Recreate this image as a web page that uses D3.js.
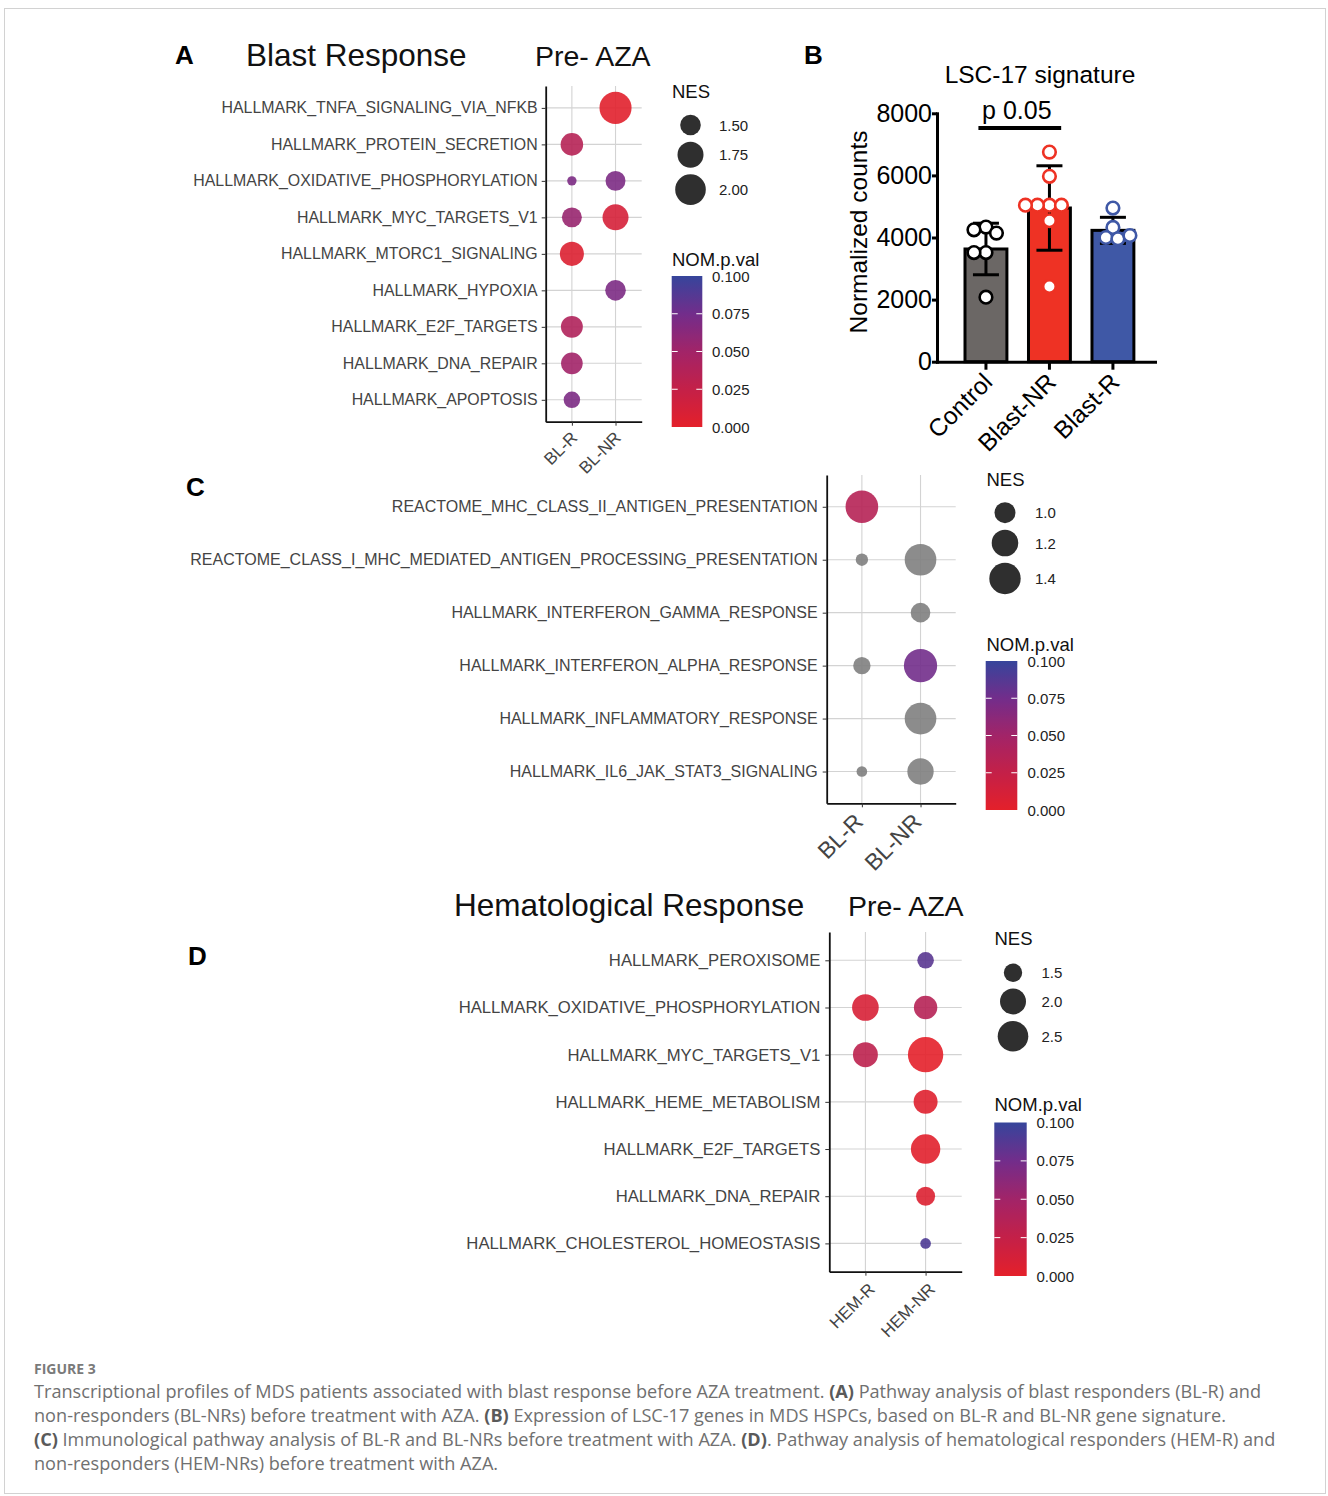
<!DOCTYPE html>
<html><head><meta charset="utf-8">
<script src="https://cdn.jsdelivr.net/npm/d3@7"></script>
<style>
body{margin:0;background:#fff}
svg{display:block}
text{font-family:"Liberation Sans",Arial,Helvetica,sans-serif}
.cap{font-family:"Open Sans","Lato",sans-serif}
</style>
</head><body>
<svg id="c" width="1328" height="1496"></svg>
<script>
// ================= DATA =================
// Panel A – Blast response, pre-AZA
const aPathways = ["HALLMARK_TNFA_SIGNALING_VIA_NFKB","HALLMARK_PROTEIN_SECRETION","HALLMARK_OXIDATIVE_PHOSPHORYLATION","HALLMARK_MYC_TARGETS_V1","HALLMARK_MTORC1_SIGNALING","HALLMARK_HYPOXIA","HALLMARK_E2F_TARGETS","HALLMARK_DNA_REPAIR","HALLMARK_APOPTOSIS"];
const aGroups = ["BL-R","BL-NR"];
const aNES_BLR  = [null,1.59,0.98,1.47,1.66,null,1.56,1.55,1.31];
const aNES_BLNR = [2.08,null,1.47,1.75,null,1.50,null,null,null];
const aP_BLR  = [null,0.035,0.07,0.055,0.006,null,0.04,0.05,0.07];
const aP_BLNR = [0.002,null,0.07,0.012,null,0.07,null,null,null];
const aNesBreaks = [1.5,1.75,2.0];
const aNesLabels = ["1.50","1.75","2.00"];

// Panel B – LSC-17 signature
const bGroups = ["Control","Blast-NR","Blast-R"];
const bMeans = [3630,4950,4230];
const bSD = [830,1360,420];
const bControl = [4335,4248,4142,3516,3516,2077];
const bBlastNR = [6750,5970,5040,5040,5040,5040,4540,2420];
const bBlastR  = [4948,4323,4000,3958,4065];
const bTicks = [0,2000,4000,6000,8000];

// Panel C – immunological pathways
const cPathways = ["REACTOME_MHC_CLASS_II_ANTIGEN_PRESENTATION","REACTOME_CLASS_I_MHC_MEDIATED_ANTIGEN_PROCESSING_PRESENTATION","HALLMARK_INTERFERON_GAMMA_RESPONSE","HALLMARK_INTERFERON_ALPHA_RESPONSE","HALLMARK_INFLAMMATORY_RESPONSE","HALLMARK_IL6_JAK_STAT3_SIGNALING"];
const cGroups = ["BL-R","BL-NR"];
const cNES_BLR  = [1.45,0.69,null,0.87,null,0.63];
const cNES_BLNR = [null,1.41,0.95,1.48,1.41,1.19];
const cP_BLR  = [0.035,null,null,null,null,null];   // null = NA (grey)
const cP_BLNR = [null,null,null,0.075,null,null];
const cNesBreaks = [1.0,1.2,1.4];
const cNesLabels = ["1.0","1.2","1.4"];

// Panel D – Hematological response, pre-AZA
const dPathways = ["HALLMARK_PEROXISOME","HALLMARK_OXIDATIVE_PHOSPHORYLATION","HALLMARK_MYC_TARGETS_V1","HALLMARK_HEME_METABOLISM","HALLMARK_E2F_TARGETS","HALLMARK_DNA_REPAIR","HALLMARK_CHOLESTEROL_HOMEOSTASIS"];
const dGroups = ["HEM-R","HEM-NR"];
const dNES_HEMR  = [null,2.07,1.93,null,null,null,null];
const dNES_HEMNR = [1.38,1.83,3.02,1.87,2.37,1.54,0.99];
const dP_HEMR  = [null,0.01,0.03,null,null,null,null];
const dP_HEMNR = [0.085,0.035,0.0,0.004,0.002,0.006,0.09];
const dNesBreaks = [1.5,2.0,2.5];
const dNesLabels = ["1.5","2.0","2.5"];

const pTicks = [0,0.025,0.05,0.075,0.1];
const pColors = ["#E4202A","#C42048","#A22468","#722D8B","#36459B"];

// ================= DRAW =================
const svg = d3.select("#c");
const defs = svg.append("defs");
const pColor = d3.scaleLinear().domain(pTicks).range(pColors).interpolate(d3.interpolateRgb);
const NA_COL = "#7f7f7f";

// frame
svg.append("rect").attr("x",4.5).attr("y",8.5).attr("width",1321).attr("height",1485)
  .attr("fill","none").attr("stroke","#d2d2d2").attr("stroke-width",1);

function dotPanel(o){
  const g = svg.append("g");
  const x = d3.scalePoint().domain(o.groups).range([o.x0,o.x1]).padding(0.6);
  const y = d3.scalePoint().domain(o.pathways).range([o.y0,o.y1]).padding(0.6);
  g.selectAll("line.gx").data(o.groups).join("line").attr("class","gx")
    .attr("x1",d=>x(d)).attr("x2",d=>x(d)).attr("y1",o.y0).attr("y2",o.y1)
    .attr("stroke","#d3d3d3").attr("stroke-width",1.1);
  g.selectAll("line.gy").data(o.pathways).join("line").attr("class","gy")
    .attr("x1",o.x0).attr("x2",o.x1).attr("y1",d=>y(d)).attr("y2",d=>y(d))
    .attr("stroke","#d3d3d3").attr("stroke-width",1.1);
  const pts=[];
  o.groups.forEach((grp,gi)=>o.pathways.forEach((p,i)=>{
    const n=o.nes[gi][i]; if(n!=null) pts.push({grp,p,n,pv:o.pv[gi][i]});
  }));
  g.selectAll("circle.dot").data(pts).join("circle").attr("class","dot")
    .attr("cx",d=>x(d.grp)).attr("cy",d=>y(d.p)).attr("r",d=>o.r(d.n))
    .attr("fill",d=>d.pv==null?NA_COL:pColor(d.pv)).attr("fill-opacity",0.9);
  const ya = g.append("g").attr("transform",`translate(${o.x0},0)`)
    .call(d3.axisLeft(y).tickSize(4).tickPadding(o.pad).tickSizeOuter(0));
  ya.select(".domain").attr("stroke","#111").attr("stroke-width",1.8);
  ya.selectAll(".tick line").attr("stroke","#333");
  ya.selectAll(".tick text").attr("font-size",o.labelSize).attr("fill","#444");
  const xa = g.append("g").attr("transform",`translate(0,${o.y1})`)
    .call(d3.axisBottom(x).tickSize(4).tickSizeOuter(0));
  xa.select(".domain").attr("stroke","#111").attr("stroke-width",1.8);
  xa.selectAll(".tick line").attr("stroke","#333");
  xa.selectAll(".tick text").attr("y",0).attr("dy",0).attr("text-anchor","end")
    .attr("transform",`translate(${o.lx},${o.ly}) rotate(-45)`)
    .attr("font-size",o.xSize).attr("fill","#444");
}

function legend(o){
  const g = svg.append("g");
  g.append("text").attr("x",o.x).attr("y",o.nesBase).attr("font-size",18.5).attr("fill","#111").text("NES");
  let cy=o.firstY; const ys=[];
  o.breaks.forEach((b,i)=>{ if(i>0) cy += o.r(o.breaks[i-1]) + o.r(b) + 6.5; ys.push(cy); });
  g.selectAll("circle").data(o.breaks).join("circle")
    .attr("cx",o.cx).attr("cy",(d,i)=>ys[i]).attr("r",d=>o.r(d)).attr("fill","#2f2f2f");
  g.selectAll("text.lab").data(o.labels).join("text").attr("class","lab")
    .attr("x",o.labelX).attr("y",(d,i)=>ys[i]).attr("dominant-baseline","central")
    .attr("font-size",15).attr("fill","#222").text(d=>d);
  g.append("text").attr("x",o.x).attr("y",o.pBase).attr("font-size",18.5).attr("fill","#111").text("NOM.p.val");
  const id="grad"+o.id;
  const gr = defs.append("linearGradient").attr("id",id).attr("x1",0).attr("y1",1).attr("x2",0).attr("y2",0);
  d3.range(0,1.0001,0.05).forEach(t=>gr.append("stop").attr("offset",t).attr("stop-color",pColor(t*0.1)));
  const ys2 = d3.scaleLinear().domain([0,0.1]).range([o.barBot,o.barTop]);
  g.append("rect").attr("x",o.barX).attr("y",o.barTop).attr("width",o.barW).attr("height",o.barBot-o.barTop).attr("fill",`url(#${id})`);
  const inner = pTicks.filter(t=>t>0&&t<0.1);
  inner.forEach(t=>{
    g.append("line").attr("x1",o.barX).attr("x2",o.barX+6).attr("y1",ys2(t)).attr("y2",ys2(t)).attr("stroke","#fff").attr("stroke-width",1);
    g.append("line").attr("x1",o.barX+o.barW-6).attr("x2",o.barX+o.barW).attr("y1",ys2(t)).attr("y2",ys2(t)).attr("stroke","#fff").attr("stroke-width",1);
  });
  g.selectAll("text.pl").data(pTicks).join("text").attr("class","pl")
    .attr("x",o.labelX2).attr("y",d=>ys2(d)).attr("dominant-baseline","central")
    .attr("font-size",15).attr("fill","#222").text(d=>d3.format(".3f")(d));
}

// ---- Panel A ----
const rA = d3.scaleLinear().domain(aNesBreaks).range([10.3,13,15.3]);
dotPanel({groups:aGroups,pathways:aPathways,nes:[aNES_BLR,aNES_BLNR],pv:[aP_BLR,aP_BLNR],
  x0:545.7,x1:641.7,y0:86,y1:421.7,r:rA,labelSize:15.9,pad:4,xSize:17,lx:6,ly:17});
legend({id:"A",x:672,nesBase:98,cx:690.5,firstY:125,labelX:719,breaks:aNesBreaks,labels:aNesLabels,r:rA,
  pBase:266,barX:671.7,barW:30.6,barTop:276,barBot:427,labelX2:712});
svg.append("text").attr("x",175).attr("y",63.5).attr("font-size",26).attr("font-weight","bold").text("A");
svg.append("text").attr("x",246).attr("y",65.5).attr("font-size",31.5).attr("fill","#111").text("Blast Response");
svg.append("text").attr("x",535).attr("y",65.5).attr("font-size",28.5).attr("fill","#111").text("Pre- AZA");

// ---- Panel B ----
(function(){
  const g = svg.append("g");
  const yB = d3.scaleLinear().domain([0,8000]).range([361.7,113.3]);
  const xB = d3.scaleBand().domain(bGroups).range([937,1155]).paddingInner(0.34).paddingOuter(0.387).align(0.57);
  const bw = xB.bandwidth();
  const fills = ["#6B6765","#EE3224","#3F58A6"];
  const strokes = ["#000","#EE3224","#3F58A6"];
  const series = [bControl,bBlastNR,bBlastR];
  g.selectAll("rect.bar").data(bGroups).join("rect").attr("class","bar")
    .attr("x",d=>xB(d)).attr("width",bw).attr("y",(d,i)=>yB(bMeans[i]))
    .attr("height",(d,i)=>yB(0)-yB(bMeans[i])).attr("fill",(d,i)=>fills[i])
    .attr("stroke","#000").attr("stroke-width",3);
  // error bars
  bGroups.forEach((grp,i)=>{
    const cx = xB(grp)+bw/2, lo=yB(bMeans[i]-bSD[i]), hi=yB(bMeans[i]+bSD[i]);
    g.append("line").attr("x1",cx).attr("x2",cx).attr("y1",lo).attr("y2",hi).attr("stroke","#000").attr("stroke-width",3);
    [lo,hi].forEach(yy=>g.append("line").attr("x1",cx-13).attr("x2",cx+13).attr("y1",yy).attr("y2",yy).attr("stroke","#000").attr("stroke-width",3));
  });
  // points (simple beeswarm)
  const R=6.3, minD=12;
  bGroups.forEach((grp,i)=>{
    const cx = xB(grp)+bw/2; const placed=[];
    series[i].forEach(v=>{
      const py=yB(v); let dx=0;
      for(let k=0;k<60;k+=0.5){
        let ok=false;
        for(const s of [-1,1]){
          const c=s*k;
          if(placed.every(p=>Math.hypot(p.dx-c,p.y-py)>=minD)){dx=c;ok=true;break;}
        }
        if(ok)break;
      }
      placed.push({dx,y:py});
    });
    g.selectAll(null).data(placed).join("circle").attr("cx",p=>cx+p.dx).attr("cy",p=>p.y).attr("r",R)
      .attr("fill","#fff").attr("stroke",strokes[i]).attr("stroke-width",2.6);
  });
  const ya = g.append("g").attr("transform","translate(937,0)")
    .call(d3.axisLeft(yB).tickValues(bTicks).tickFormat(d3.format("d")).tickSize(5).tickPadding(0).tickSizeOuter(0));
  ya.select(".domain").attr("stroke","#000").attr("stroke-width",3).attr("stroke-linecap","square");
  ya.selectAll(".tick line").attr("stroke","#000").attr("stroke-width",3);
  ya.selectAll(".tick text").attr("font-size",25).attr("fill","#000");
  const xa = g.append("g").attr("transform",`translate(0,${yB(0)})`)
    .call(d3.axisBottom(xB).tickSize(8).tickSizeOuter(0));
  xa.select(".domain").attr("stroke","#000").attr("stroke-width",3).attr("stroke-linecap","square");
  xa.selectAll(".tick line").attr("stroke","#000").attr("stroke-width",3);
  xa.selectAll(".tick text").attr("y",0).attr("dy",0).attr("text-anchor","end")
    .attr("transform","translate(8,22) rotate(-45)").attr("font-size",24.5).attr("fill","#000");
  // significance
  const sx1 = xB("Control")+bw*0.32, sx2 = xB("Blast-NR")+bw*0.78;
  g.append("line").attr("x1",sx1).attr("x2",sx2).attr("y1",yB(7530)).attr("y2",yB(7530)).attr("stroke","#000").attr("stroke-width",4);
  g.append("text").attr("x",(sx1+sx2)/2-3).attr("y",yB(7830)).attr("text-anchor","middle").attr("font-size",25).text("p 0.05");
  g.append("text").attr("x",1040).attr("y",83).attr("text-anchor","middle").attr("font-size",24.5).text("LSC-17 signature");
  g.append("text").attr("transform","translate(858,232) rotate(-90)").attr("text-anchor","middle")
    .attr("dominant-baseline","central").attr("font-size",24.5).text("Normalized counts");
  svg.append("text").attr("x",804).attr("y",63.5).attr("font-size",26).attr("font-weight","bold").text("B");
})();

// ---- Panel C ----
const rC = d3.scaleLinear().domain(cNesBreaks).range([10.5,13.3,15.7]);
dotPanel({groups:cGroups,pathways:cPathways,nes:[cNES_BLR,cNES_BLNR],pv:[cP_BLR,cP_BLNR],
  x0:826.7,x1:955.7,y0:475,y1:803.3,r:rC,labelSize:16,pad:5,xSize:23,lx:2,ly:20});
legend({id:"C",x:986.5,nesBase:486,cx:1005,firstY:512.7,labelX:1035,breaks:cNesBreaks,labels:cNesLabels,r:rC,
  pBase:651,barX:985.7,barW:31.6,barTop:661,barBot:810,labelX2:1027.5});
svg.append("text").attr("x",186).attr("y",495.5).attr("font-size",26).attr("font-weight","bold").text("C");

// ---- Panel D ----
const rD = d3.scaleLinear().domain(dNesBreaks).range([9.2,13,15.3]);
dotPanel({groups:dGroups,pathways:dPathways,nes:[dNES_HEMR,dNES_HEMNR],pv:[dP_HEMR,dP_HEMNR],
  x0:829.3,x1:961.7,y0:932,y1:1271.7,r:rD,labelSize:16.7,pad:5,xSize:17,lx:10,ly:18.5});
legend({id:"D",x:994.5,nesBase:945,cx:1013,firstY:972.7,labelX:1041.5,breaks:dNesBreaks,labels:dNesLabels,r:rD,
  pBase:1111,barX:994.3,barW:32.4,barTop:1122.5,barBot:1276,labelX2:1036.5});
svg.append("text").attr("x",188).attr("y",964.5).attr("font-size",26).attr("font-weight","bold").text("D");
svg.append("text").attr("x",454).attr("y",916).attr("font-size",31.5).attr("fill","#111").text("Hematological Response");
svg.append("text").attr("x",848).attr("y",916).attr("font-size",28.5).attr("fill","#111").text("Pre- AZA");

// ---- Caption ----
const captionLines = [
  [["Transcriptional profiles of MDS patients associated with blast response before AZA treatment. ",0],["(A)",1],[" Pathway analysis of blast responders (BL-R) and",0]],
  [["non-responders (BL-NRs) before treatment with AZA. ",0],["(B)",1],[" Expression of LSC-17 genes in MDS HSPCs, based on BL-R and BL-NR gene signature.",0]],
  [["(C)",1],[" Immunological pathway analysis of BL-R and BL-NRs before treatment with AZA. ",0],["(D)",1],[". Pathway analysis of hematological responders (HEM-R) and",0]],
  [["non-responders (HEM-NRs) before treatment with AZA.",0]]
];
svg.append("text").attr("class","cap").attr("x",34).attr("y",1374).attr("font-size",14).attr("font-weight",700)
  .attr("fill","#7a7a7a").text("FIGURE 3");
const capG = svg.append("g");
const capTexts = captionLines.map((line,i)=>{
  const t = capG.append("text").attr("class","cap").attr("x",34).attr("y",1398+i*24).attr("font-size",18).attr("fill","#707070");
  line.forEach(([s,b])=>t.append("tspan").attr("font-weight",b?700:400).attr("fill",b?"#5a5a5a":"#707070").text(s));
  return t;
});
const w0 = capTexts[0].node().getComputedTextLength();
const fs = 18*1228/w0;
capTexts.forEach(t=>t.attr("font-size",fs));
</script>
</body></html>
